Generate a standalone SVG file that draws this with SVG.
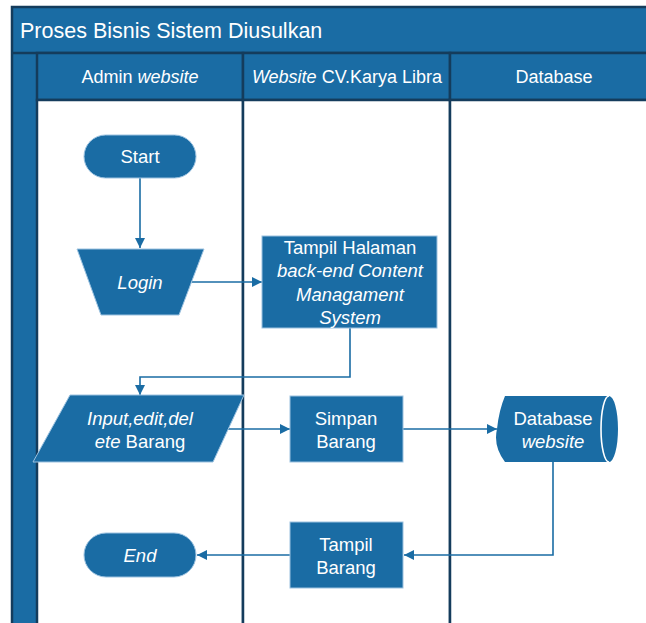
<svg xmlns="http://www.w3.org/2000/svg" width="646" height="623" viewBox="0 0 646 623">
<defs>
<style>
.pool{fill:#1a6ca4;stroke:#143c5c;stroke-width:2.5}
.lane{fill:#ffffff;stroke:#143c5c;stroke-width:2.5}
.node{fill:#1a6ca4;stroke:#9cc2e0;stroke-width:1}
.t{font-family:"Liberation Sans",Arial,sans-serif;font-size:18.5px;fill:#ffffff;text-anchor:middle}
.h{font-family:"Liberation Sans",Arial,sans-serif;font-size:18px;fill:#ffffff;text-anchor:middle}
.i{font-style:italic}
.c{fill:none;stroke:#1a6ca4;stroke-width:1.6}
</style>
<marker id="arr" viewBox="0 0 10 10" refX="10" refY="5" markerWidth="10" markerHeight="10" markerUnits="userSpaceOnUse" orient="auto">
<path d="M0,0 L10,5 L0,10 z" fill="#1a6ca4"/>
</marker>
</defs>
<rect width="646" height="623" fill="#ffffff"/>
<g id="pool">
<rect class="pool" x="12" y="7" width="650" height="630"/>
<line x1="12" y1="53" x2="646" y2="53" stroke="#143c5c" stroke-width="2.5"/>
<text x="20" y="38" style="font-family:'Liberation Sans',Arial,sans-serif;font-size:21.5px;fill:#ffffff">Proses Bisnis Sistem Diusulkan</text>
</g>
<g id="lane-admin">
<rect class="pool" x="37" y="53" width="206" height="47"/>
<rect class="lane" x="37" y="100" width="206" height="540"/>
<text class="h" x="140" y="83">Admin <tspan class="i">website</tspan></text>
</g>
<g id="lane-website">
<rect class="pool" x="243" y="53" width="207" height="47"/>
<rect class="lane" x="243" y="100" width="207" height="540"/>
<text class="h" x="347" y="83"><tspan class="i">Website</tspan> CV.Karya Libra</text>
</g>
<g id="lane-database">
<rect class="pool" x="450" y="53" width="210" height="47"/>
<rect class="lane" x="450" y="100" width="210" height="540"/>
<text class="h" x="554" y="83">Database</text>
</g>
<g id="connectors">
<line class="c" x1="140" y1="178" x2="140" y2="248" marker-end="url(#arr)"/>
<line class="c" x1="192" y1="282" x2="262" y2="282" marker-end="url(#arr)"/>
<polyline class="c" points="350,328 350,377 140,377 140,395" marker-end="url(#arr)"/>
<line class="c" x1="228" y1="429" x2="290" y2="429" marker-end="url(#arr)"/>
<line class="c" x1="403" y1="429" x2="497" y2="429" marker-end="url(#arr)"/>
<polyline class="c" points="553,462 553,555 404,555" marker-end="url(#arr)"/>
<line class="c" x1="290" y1="555" x2="197" y2="555" marker-end="url(#arr)"/>
</g>
<g id="start">
<rect class="node" x="84" y="135" width="112" height="43" rx="21.5"/>
<text class="t" x="140" y="163">Start</text>
</g>
<g id="login">
<polygon class="node" points="77,249 204,249 179,315 101,315"/>
<text class="t i" x="140" y="289">Login</text>
</g>
<g id="tampil-halaman">
<rect class="node" x="262" y="236" width="175" height="92"/>
<text class="t" x="350" y="254">Tampil Halaman</text>
<text class="t i" x="350" y="277">back-end Content</text>
<text class="t i" x="350" y="301">Managament</text>
<text class="t i" x="350" y="324">System</text>
</g>
<g id="input">
<polygon class="node" points="70,395 244,395 213,462 33,462"/>
<text class="t i" x="140" y="425">Input,edit,del</text>
<text class="t" x="140" y="448"><tspan class="i">ete</tspan> Barang</text>
</g>
<g id="simpan">
<rect class="node" x="290" y="396" width="113" height="66"/>
<text class="t" x="346" y="425">Simpan</text>
<text class="t" x="346" y="448">Barang</text>
</g>
<g id="database">
<path d="M505,396 L609,396 A9,33 0 0 1 609,462 L505,462 Q493,446 497,429 Q499,410 505,396 z" fill="#1a6ca4"/>
<path d="M609,396 A8,33 0 0 0 609,462" fill="none" stroke="#ffffff" stroke-width="1.6"/>
<text class="t" x="553" y="425">Database</text>
<text class="t i" x="553" y="448">website</text>
</g>
<g id="tampil-barang">
<rect class="node" x="290" y="522" width="113" height="66"/>
<text class="t" x="346" y="551">Tampil</text>
<text class="t" x="346" y="574">Barang</text>
</g>
<g id="end">
<rect class="node" x="84" y="533" width="112" height="44" rx="22"/>
<text class="t i" x="140" y="562">End</text>
</g>
</svg>
